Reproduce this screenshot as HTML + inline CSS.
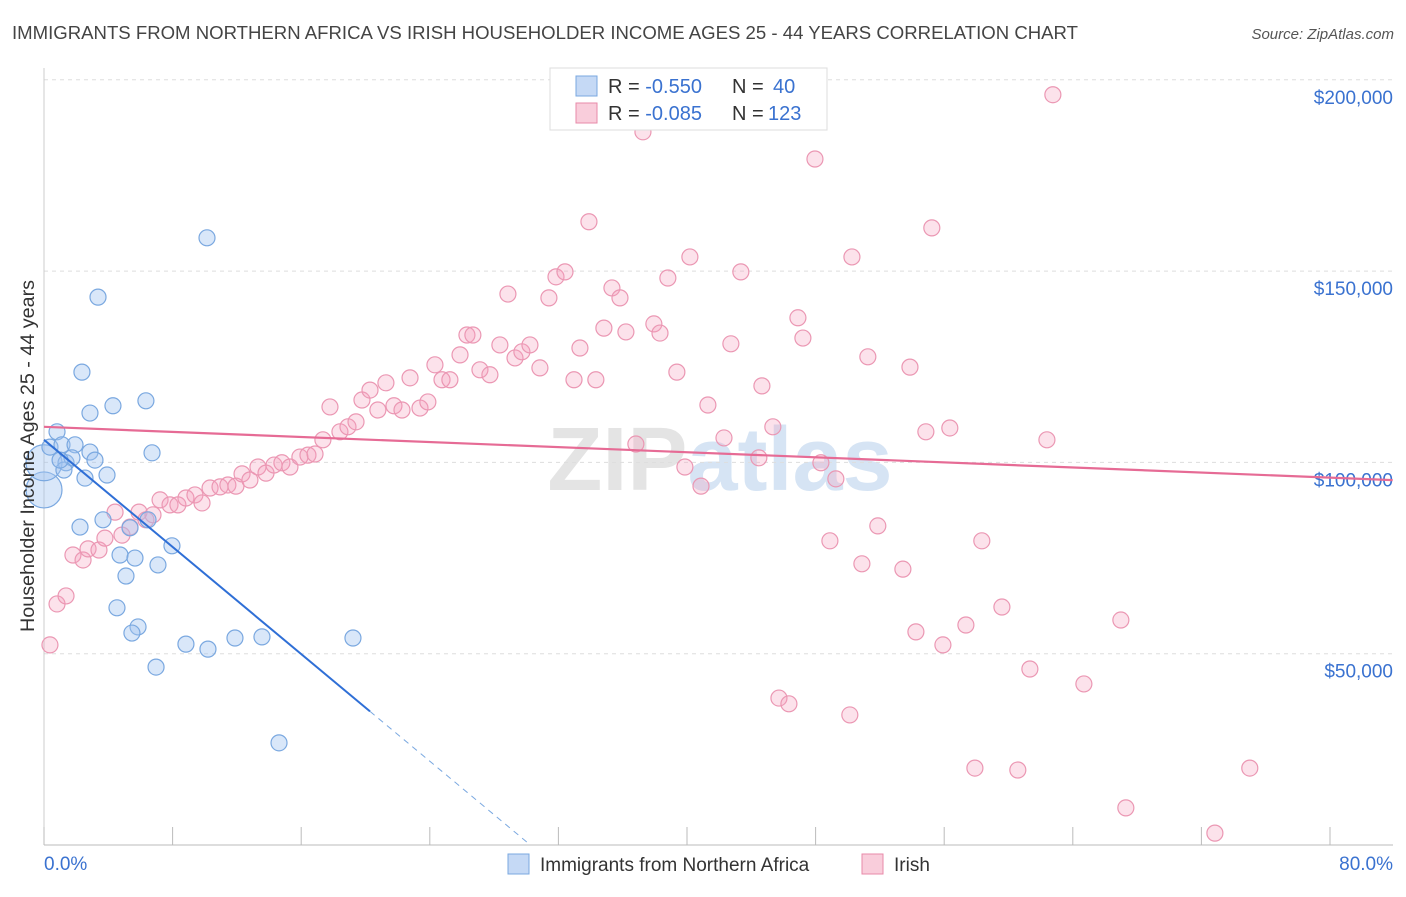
<!DOCTYPE html>
<html><head><meta charset="utf-8"><style>
body{margin:0;background:#fff;font-family:"Liberation Sans",sans-serif}
svg text{font-family:"Liberation Sans",sans-serif}
</style></head><body>
<svg id="chart" width="1406" height="892" xmlns="http://www.w3.org/2000/svg">
<text x="12" y="39" font-size="18" fill="#444" textLength="1066" lengthAdjust="spacingAndGlyphs">IMMIGRANTS FROM NORTHERN AFRICA VS IRISH HOUSEHOLDER INCOME AGES 25 - 44 YEARS CORRELATION CHART</text>
<text x="1394" y="39" font-size="15" fill="#555" text-anchor="end" font-style="italic">Source: ZipAtlas.com</text>
<text x="720" y="490" font-size="90" fill="#e4e4e4" text-anchor="middle" font-weight="bold">ZIP<tspan fill="#d6e4f4">atlas</tspan></text>
<g id="grid"></g>
<g id="axes"></g>
<g id="pts"></g>
<g id="trends"></g>
<text transform="translate(34,456) rotate(-90)" font-size="19" fill="#333" text-anchor="middle" textLength="352" lengthAdjust="spacingAndGlyphs">Householder Income Ages 25 - 44 years</text>
<g>
<rect x="550" y="68" width="277" height="62" fill="#fff" stroke="#ddd"/>
<rect x="576" y="76" width="21" height="20" fill="#c5d9f5" stroke="#7aa8e0"/>
<text x="608" y="93" font-size="20" fill="#333">R = <tspan fill="#3a72d0">-0.550</tspan></text>
<text x="732" y="93" font-size="20" fill="#333">N =</text>
<text x="773" y="93" font-size="20" fill="#3a72d0">40</text>
<rect x="576" y="103" width="21" height="20" fill="#f9cddb" stroke="#e88aa8"/>
<text x="608" y="120" font-size="20" fill="#333">R = <tspan fill="#3a72d0">-0.085</tspan></text>
<text x="732" y="120" font-size="20" fill="#333">N =</text>
<text x="768" y="120" font-size="20" fill="#3a72d0">123</text>
</g>
<g>
<rect x="508" y="854" width="21" height="20" fill="#c5d9f5" stroke="#7aa8e0"/>
<text x="540" y="871" font-size="19" fill="#333">Immigrants from Northern Africa</text>
<rect x="862" y="854" width="21" height="20" fill="#f9cddb" stroke="#e88aa8"/>
<text x="894" y="871" font-size="19" fill="#333">Irish</text>
</g>
</svg>
<script>
const yTicks=[50000,100000,150000,200000];
const yTickLabels=["$50,000","$100,000","$150,000","$200,000"];
const xTicks=[0,8,16,24,32,40,48,56,64,72,80];
const blueX=[0,0,0.81,0.37,1.12,1.93,2.86,1.37,1.74,1.24,3.17,3.92,2.55,3.36,2.36,2.86,4.29,6.34,6.72,10.14,2.24,3.67,5.35,6.47,4.73,5.66,7.96,5.10,7.09,4.54,5.85,5.47,6.97,8.83,10.2,11.88,13.56,19.22,14.62,1.0];
const blueY=[92.8,99.9,108.0,104.0,104.6,104.6,102.7,99.9,101.2,98.0,100.6,96.7,95.9,143.2,123.6,112.9,114.8,116.1,102.5,158.7,83.1,85.0,82.9,85.0,75.8,75.0,78.2,70.3,73.2,62.0,57.0,55.4,46.5,52.5,51.2,54.1,54.4,54.1,26.7,100.6];
const blueSize=[18,18,8,8,8,8,8,8,8,8,8,8,8,8,8,8,8,8,8,8,8,8,8,8,8,8,8,8,8,8,8,8,8,8,8,8,8,8,8,8];
const pinkX=[0.37,0.81,1.37,1.80,2.43,2.74,3.42,3.79,4.42,4.85,5.35,5.91,6.34,6.78,7.22,7.84,8.33,8.83,9.39,9.83,10.33,10.95,11.44,11.94,12.32,12.81,13.31,13.81,14.31,14.80,15.30,15.92,16.42,16.86,17.35,17.79,18.41,18.91,19.41,19.78,20.28,20.77,21.27,21.77,22.27,22.77,23.39,23.88,24.32,24.76,25.25,25.88,26.31,26.68,27.12,27.74,28.36,28.86,29.30,29.73,30.23,30.85,31.41,31.85,32.41,32.97,33.34,33.90,34.33,34.83,35.33,35.83,36.20,36.82,37.26,37.94,38.32,38.81,39.37,39.87,40.18,40.87,41.30,41.86,42.30,42.73,43.35,44.47,44.66,45.34,45.72,46.34,46.90,47.21,47.96,48.33,48.89,49.26,50.13,50.26,50.88,51.25,51.87,53.43,53.87,54.24,54.86,55.23,55.92,56.35,57.35,57.91,58.34,59.59,60.58,61.33,62.39,62.76,64.69,67.30,66.99,72.84,75.01];
const pinkY=[52.3,63.0,65.1,75.8,74.5,77.4,77.1,80.2,87.0,81.0,83.1,87.0,85.0,86.3,90.2,88.9,88.9,90.7,91.5,89.4,93.3,93.6,94.1,93.8,97.0,95.4,98.8,97.2,99.3,99.9,98.8,101.4,101.9,102.2,105.9,114.5,108.0,109.3,110.6,116.3,118.9,113.7,120.8,114.8,113.7,122.1,114.2,115.8,125.5,121.6,121.6,128.1,133.3,133.3,124.2,122.9,130.7,144.0,127.3,128.9,130.7,124.7,143.0,148.5,149.8,121.6,129.9,162.9,121.6,135.1,145.6,143.0,134.1,104.8,186.4,136.2,133.8,148.2,123.6,98.8,153.7,93.8,115.0,192.6,106.4,131.0,149.8,101.2,120.0,109.3,38.4,36.9,137.8,132.5,179.3,99.9,79.5,95.7,34.0,153.7,73.5,127.6,83.4,72.1,124.9,55.7,108.0,161.3,52.3,109.0,57.5,20.1,79.5,62.2,19.6,46.0,105.9,196.1,42.1,9.7,58.8,3.1,20.1];
const blueTrend=[105.9,-3.5];
const blueSolidEnd=20.28, blueDashEnd=30.2;
const pinkTrend=[109.3,-0.166];
const pinkEnd=83.9;

const NS="http://www.w3.org/2000/svg";
const X=v=>44+v*(1286/80);
const Y=v=>845-v*(191.3/50000);
const Yk=v=>Y(v*1000);
function mk(tag,attrs,parent){const e=document.createElementNS(NS,tag);for(const k in attrs)e.setAttribute(k,attrs[k]);parent.appendChild(e);return e;}
const grid=document.getElementById('grid'),axes=document.getElementById('axes'),pts=document.getElementById('pts'),tr=document.getElementById('trends');
yTicks.forEach((t,i)=>{
 const l=mk('line',{x1:44,x2:1393,y1:Y(t),y2:Y(t),stroke:'#ddd','stroke-dasharray':'4,4'},grid);
 
 
 const tx=mk('text',{x:1393,y:Y(t)+24,'font-size':19,fill:'#3a72d0','text-anchor':'end'},grid);
 tx.textContent=yTickLabels[i];
 
 
});
const xa=mk('line',{x1:44,x2:1393,y1:845,y2:845,stroke:'#bbb'},axes);


const ya=mk('line',{x1:44,x2:44,y1:68,y2:845,stroke:'#ccc'},axes);


xTicks.forEach(t=>{
 const l=mk('line',{x1:X(t),x2:X(t),y1:827,y2:845,stroke:'#bbb'},axes);
 
 
});
const x0=mk('text',{x:44,y:870,'font-size':19,fill:'#3a72d0'},axes);x0.textContent='0.0%';


const x1=mk('text',{x:1393,y:870,'font-size':19,fill:'#3a72d0','text-anchor':'end'},axes);x1.textContent='80.0%';


pinkX.forEach((v,i)=>{
 const c=mk('circle',{cx:X(v),cy:Yk(pinkY[i]),r:8,fill:'rgba(244,160,188,0.3)',stroke:'#eb97b3','stroke-width':1.2},pts);
 
 
});
blueX.forEach((v,i)=>{
 const c=mk('circle',{cx:X(v),cy:Yk(blueY[i]),r:blueSize[i],fill:'rgba(160,195,240,0.4)',stroke:'#7aa8e0','stroke-width':1.2},pts);
 
 
});
const bf=x=>blueTrend[0]+blueTrend[1]*x, pf=x=>pinkTrend[0]+pinkTrend[1]*x;
const b1=mk('line',{x1:X(0),y1:Yk(bf(0)),x2:X(blueSolidEnd),y2:Yk(bf(blueSolidEnd)),stroke:'#2f6fd6','stroke-width':2},tr);


const b2=mk('line',{x1:X(blueSolidEnd),y1:Yk(bf(blueSolidEnd)),x2:X(blueDashEnd),y2:Yk(bf(blueDashEnd)),stroke:'#7aa8e0','stroke-width':1,'stroke-dasharray':'6,5'},tr);


const p1=mk('line',{x1:X(0),y1:Yk(pf(0)),x2:X(pinkEnd),y2:Yk(pf(pinkEnd)),stroke:'#e66b95','stroke-width':2.2},tr);


</script>
</body></html>
